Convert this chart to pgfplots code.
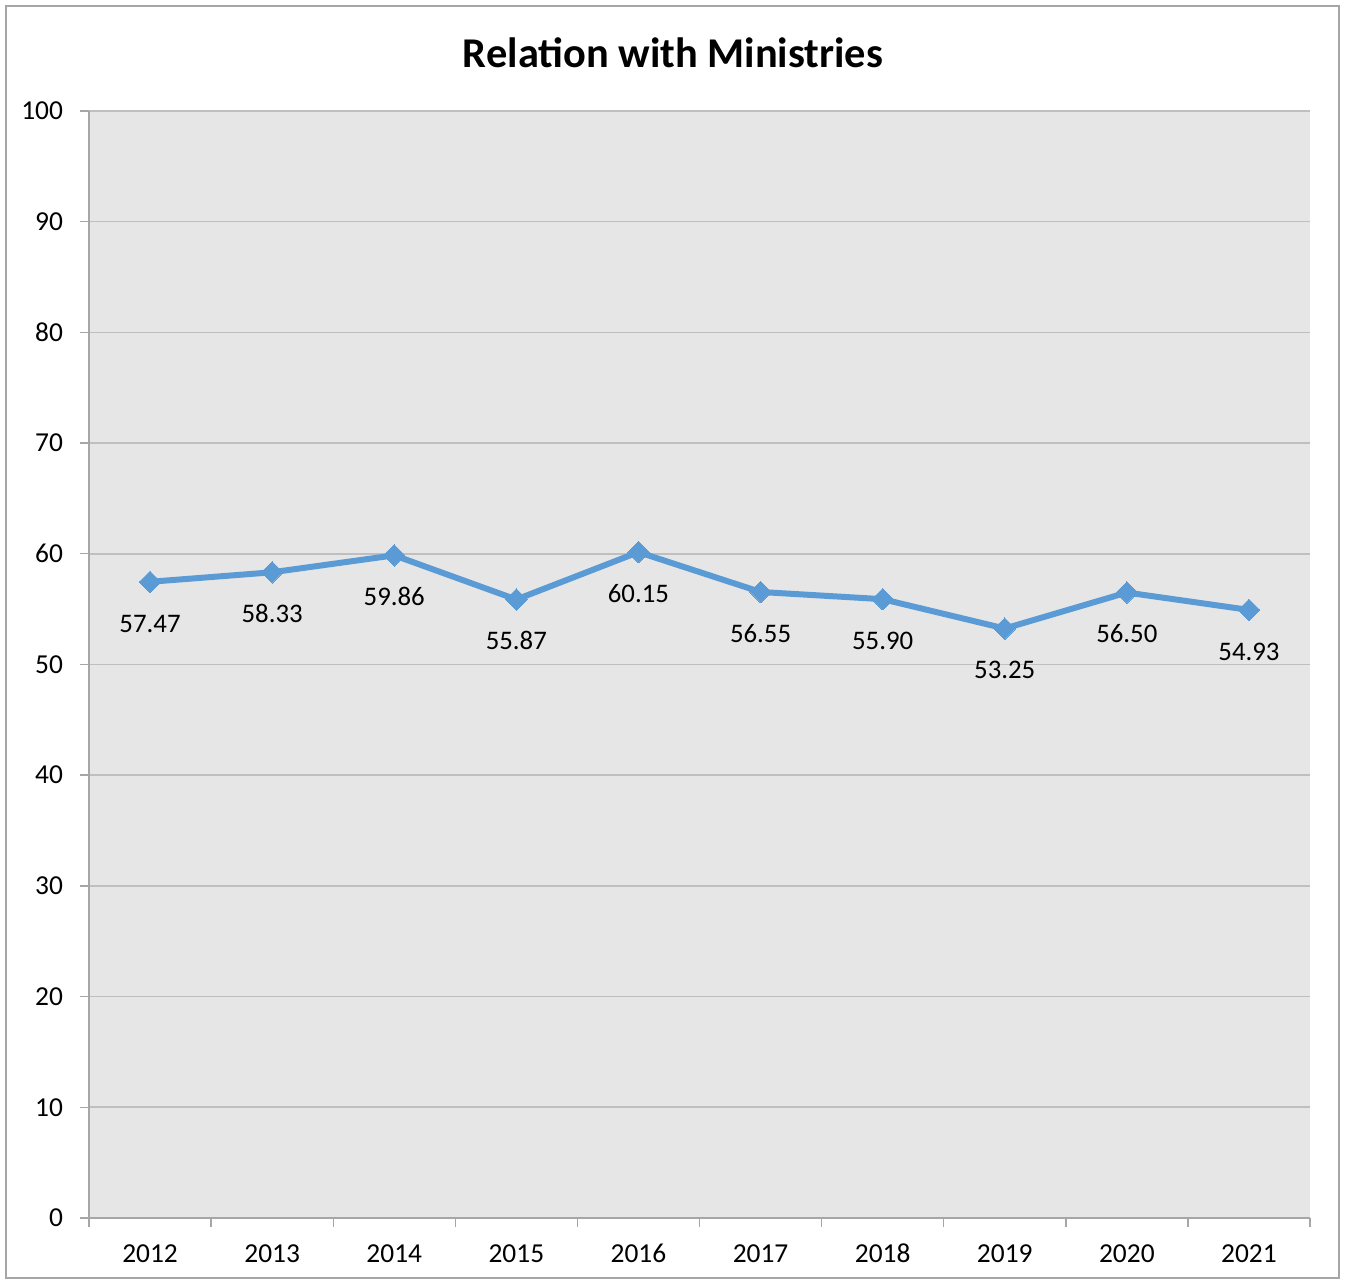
\documentclass[border=0pt]{standalone}
\usepackage{pgfplots}
\pgfplotsset{compat=1.18}
\usepackage{fontspec}
\setmainfont{Carlito}
\definecolor{bg}{HTML}{E6E6E6}
\definecolor{grid}{HTML}{8C8C8C}
\definecolor{axisc}{HTML}{A6A6A6}
\definecolor{line}{HTML}{5B9BD5}
\begin{document}
\begin{tikzpicture}[x=1pt,y=1pt]
\path (-44.5,-31.5) rectangle (628.5,609);
\draw[axisc, line width=0.7pt] (-41.5,-30) rectangle (625,606);
\node[font=\fontsize{21.2}{25}\selectfont\bfseries] at (292,582.5) {Relation with Ministries};
\begin{axis}[
  at={(0,0)}, anchor=south west,
  scale only axis, width=610.5pt, height=553.5pt,
  xmin=-0.5, xmax=9.5, ymin=0, ymax=100,
  axis background/.style={fill=bg},
  axis lines*=left,
  axis line style={axisc, line width=0.7pt},
  xtick={-0.5,0.5,...,9.5},
  xticklabels={},
  extra x ticks={0,...,9},
  extra x tick labels={2012,2013,2014,2015,2016,2017,2018,2019,2020,2021},
  extra x tick style={major tick length=0pt, grid=none, xticklabel style={yshift=-9pt, text height=9.5pt, text depth=0pt}},
  x tick style={axisc, line width=0.7pt},
  ytick={0,10,...,100},
  y tick style={axisc, line width=0.7pt},
  major tick length=4.5pt,
  tick align=outside,
  xmajorgrids=false,
  ymajorgrids,
  grid style={grid, line width=0.8pt},
  tick label style={font=\fontsize{13.7}{16}\selectfont},
  /pgf/number format/assume math mode=true,
  yticklabel style={xshift=-5pt},
  clip=false,
]
\addplot[line, line width=3pt, mark=square*, mark size=3.8pt,
  mark options={rotate=45, fill=line, draw=line, line width=0pt},
  nodes near coords,
  point meta=explicit symbolic,
  every node near coord/.append style={anchor=center, yshift=-20.5pt, text height=9.2pt, text depth=0pt, font=\fontsize{13.4}{16}\selectfont, text=black},
] table[meta=lab] {
x y lab
0 57.47 57.47
1 58.33 58.33
2 59.86 59.86
3 55.87 55.87
4 60.15 60.15
5 56.55 56.55
6 55.90 55.90
7 53.25 53.25
8 56.50 56.50
9 54.93 54.93
};
\end{axis}
\end{tikzpicture}
\end{document}
